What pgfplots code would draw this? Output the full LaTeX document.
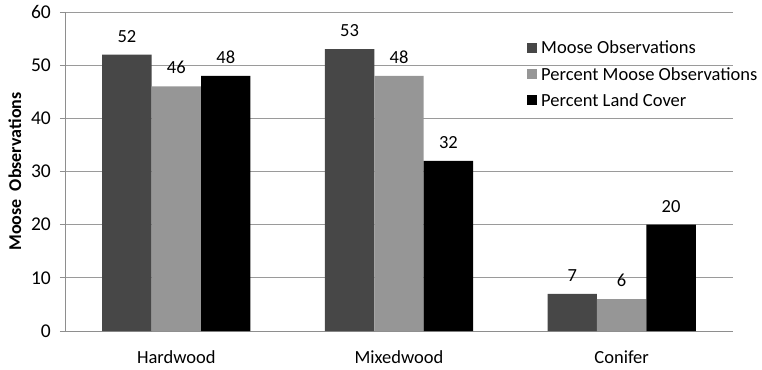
\documentclass[border=0pt]{standalone}
\usepackage{pgfplots}
\pgfplotsset{compat=1.18}
\usepackage{fontspec}
\setmainfont{Carlito}

\definecolor{mooseobs}{HTML}{474747}
\definecolor{moosepct}{HTML}{969696}
\definecolor{landcov}{HTML}{000000}
\definecolor{axisgray}{HTML}{8E8E8E}
\definecolor{gridgray}{HTML}{9A9A9A}

\begin{document}
\begin{tikzpicture}
\useasboundingbox (-65pt,-38pt) rectangle (697pt,331pt);
\begin{axis}[
  scale only axis, width=668pt, height=319pt,
  anchor=south west, at={(0pt,0pt)},
  ybar, bar width=0.222,
  xmin=-0.5, xmax=2.5, ymin=0, ymax=60,
  ytick={0,10,...,60},
  xtick={0,1,2}, xticklabels={Hardwood,Mixedwood,Conifer},
  x tick style={draw=none},
  extra x ticks={-0.5,0.5,1.5,2.5},
  extra x tick labels={},
  extra x tick style={major tick length=6pt, tick align=outside,
    tick style={draw=axisgray, line width=0.9pt}, grid=none},
  axis x line*=bottom, axis y line*=left,
  axis line style={draw=axisgray, line width=0.9pt, -},
  tick align=outside, major tick length=5pt,
  y tick style={draw=axisgray, line width=0.9pt},
  ymajorgrids, grid style={draw=gridgray, line width=0.9pt},
  /pgf/number format/assume math mode=true,
  yticklabel style={anchor=east, inner sep=0pt, xshift=-9pt,
    font=\fontsize{19.5}{22}\selectfont},
  xticklabel style={anchor=base, inner sep=0pt, yshift=-27pt,
    font=\fontsize{18.5}{21}\selectfont},
  every axis y label/.style={at={(axis description cs:-0.0749,0.5)},
    rotate=90, anchor=center, font=\fontsize{18}{21}\selectfont\bfseries},
  ylabel={Moose\ \ Observations},
  nodes near coords,
  every node near coord/.append style={font=\fontsize{18.5}{21}\selectfont,
    anchor=base, yshift=12.5pt, inner sep=0pt, text=black},
  legend style={at={(rel axis cs:0.6916,0.91)}, anchor=north west,
    draw=none, fill=none, inner sep=0pt, row sep=12pt,
    font=\fontsize{18.5}{21}\selectfont,
    nodes={inner sep=0pt, anchor=west}},
  legend cell align=left,
  legend image code/.code={%
    \fill[#1, draw=none] (0pt,-4.5pt) rectangle (10pt,5.5pt);
    \path (14pt,0pt);},
]
\addplot[fill=mooseobs, draw=none, bar shift=-0.222]
  coordinates {(0,52) (1,53) (2,7)};
\addplot[fill=moosepct, draw=none, bar shift=0]
  coordinates {(0,46) (1,48) (2,6)};
\addplot[fill=landcov, draw=none, bar shift=0.222]
  coordinates {(0,48) (1,32) (2,20)};
\legend{Moose Observations, Percent Moose Observations, Percent Land Cover}
\end{axis}
\end{tikzpicture}
\end{document}
